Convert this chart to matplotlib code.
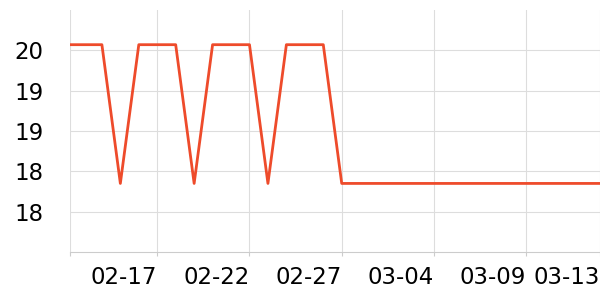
import matplotlib
matplotlib.use('Agg')
import matplotlib.pyplot as plt
import pandas as pd
from matplotlib.ticker import FuncFormatter

# Daily series, 2025-02-12 .. 2025-03-13
dates = pd.date_range('2025-02-12', '2025-03-13', freq='D')
values = [20.07, 20.07, 20.07, 18.35, 20.07, 20.07, 20.07, 18.35, 20.07, 20.07,
          20.07, 18.35, 20.07, 20.07, 20.07, 18.35, 18.35, 18.35, 18.35, 18.35,
          18.35, 18.35, 18.35, 18.35, 18.35, 18.35, 18.35, 18.35, 18.35, 18.35]
x_start = pd.Timestamp('2025-02-12 06:30')
tick_dates = [x_start] + list(pd.to_datetime(['2025-02-17', '2025-02-22', '2025-02-27',
                                              '2025-03-04', '2025-03-09', '2025-03-13']))
tick_labels = ['', '02-17', '02-22', '02-27', '03-04', '03-09', '03-13']
y_ticks = [18, 18.5, 19, 19.5, 20]

fig = plt.figure(figsize=(6, 3), dpi=100)
ax = fig.add_axes([70 / 600, 48 / 300, 530 / 600, 242 / 300])

ax.plot(dates, values, color='#ee4b2b', linewidth=2.0, zorder=3)

ax.set_xlim(x_start, dates[-1])
ax.set_ylim(17.5, 20.5)
ax.set_xticks(tick_dates)
ax.set_xticklabels(tick_labels, ha='right')
ax.set_yticks(y_ticks)
ax.yaxis.set_major_formatter(FuncFormatter(lambda v, p: str(int(v))))

ax.grid(True, color='#dddddd', linewidth=0.8)
ax.set_axisbelow(True)
for side in ['left', 'right', 'top']:
    ax.spines[side].set_visible(False)
ax.spines['bottom'].set_color('#cccccc')
ax.tick_params(axis='x', length=3, color='#cccccc', labelsize=16.5, pad=7)
ax.tick_params(axis='y', length=0, labelsize=16.5, pad=19)

fig.savefig('out.png', dpi=100)
